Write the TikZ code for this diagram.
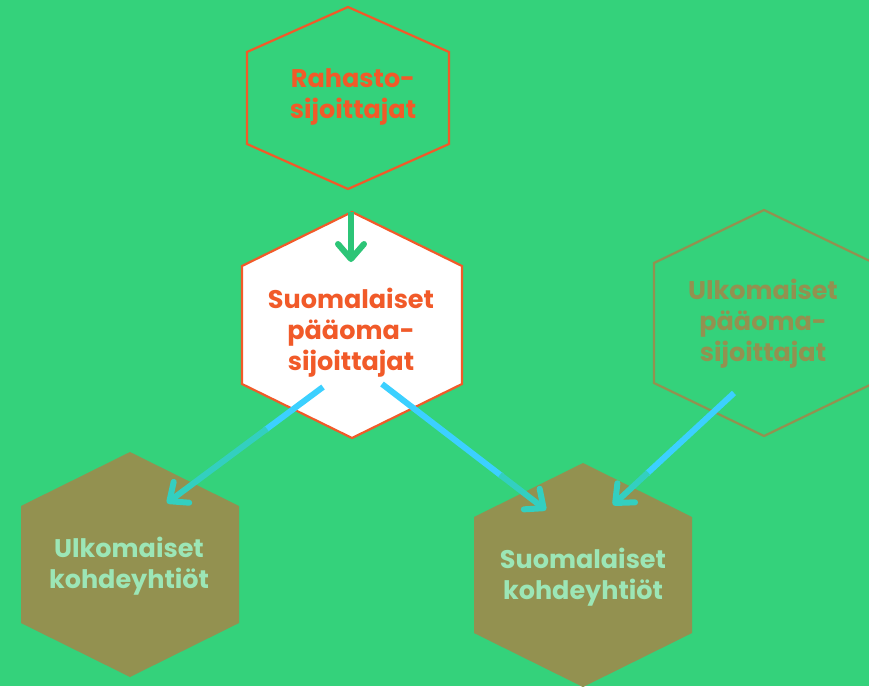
\documentclass[tikz,border=0pt]{standalone}
\usepackage{fontspec}
\setmainfont{Poppins}
\usetikzlibrary{arrows.meta,calc}
\definecolor{bggreen}{HTML}{34D27B}
\definecolor{arrgreen}{HTML}{2CC577}
\definecolor{hexorange}{HTML}{F15A29}
\definecolor{hexolive}{HTML}{939150}
\definecolor{paletext}{HTML}{9CE6B6}
\definecolor{flowblue}{HTML}{3CD0FF}
\definecolor{flowteal}{HTML}{33CFC0}
\tikzset{
  hexlabel/.style={align=center,font=\bfseries\fontsize{25.5}{31}\selectfont},
  flowline/.style={line width=6pt},
  flowarrow/.style={line width=6pt,-{Straight Barb[length=15pt,width=26pt,round]}}
}
\begin{document}
\begin{tikzpicture}[x=1pt,y=-1pt]
	\fill [bggreen] (0,0) rectangle (869,686);
	\useasboundingbox (0,0) rectangle (869,686);
	% Hexagons
	\draw [hexorange,line width=2.2pt] (348,7) -- ++(101,45) -- ++(0,92) -- ++(-101,45) -- ++(-101,-45) -- ++(0,-92) -- cycle;
	\draw [hexorange,fill=white,line width=2.2pt] (352,212) -- ++(110,54) -- ++(0,118) -- ++(-110,54) -- ++(-110,-54) -- ++(0,-118) -- cycle;
	\draw [hexolive,line width=2.2pt] (764,210) -- ++(110,53) -- ++(0,120) -- ++(-110,53) -- ++(-110,-53) -- ++(0,-120) -- cycle;
	\fill [hexolive] (130,452) -- ++(109,54) -- ++(0,117) -- ++(-109,54) -- ++(-109,-54) -- ++(0,-117) -- cycle;
	\fill [hexolive] (583,463) -- ++(109,54) -- ++(0,116) -- ++(-109,54) -- ++(-109,-54) -- ++(0,-116) -- cycle;
	% Labels
	\node [hexlabel,text=hexorange] (rahasto) at (353,97) {Rahasto-\\sijoittajat};
	\node [hexlabel,text=hexorange] (kotisij) at (351,333) {Suomalaiset\\pääoma-\\sijoittajat};
	\node [hexlabel,text=hexolive] (ulkosij) at (763,324) {Ulkomaiset\\pääoma-\\sijoittajat};
	\node [hexlabel,text=paletext] (ulkokohde) at (129,566) {Ulkomaiset\\kohdeyhtiöt};
	\node [hexlabel,text=paletext] (kotikohde) at (583,577) {Suomalaiset\\kohdeyhtiöt};
	% Flows
	\coordinate (rahasto-out) at ($(rahasto)+(-2,115)$);
	\coordinate (kotisij-in) at ($(kotisij)+(0,-71)$);
	\coordinate (kotisij-left) at ($(kotisij)+(-28,54)$);
	\coordinate (kotisij-right) at ($(kotisij)+(31,51)$);
	\coordinate (ulkosij-out) at ($(ulkosij)+(-29,69)$);
	\coordinate (ulkokohde-in) at ($(ulkokohde)+(38,-63)$);
	\coordinate (kotikohde-in1) at ($(kotikohde)+(-37,-67)$);
	\coordinate (kotikohde-in2) at ($(kotikohde)+(30,-72)$);
	\draw [flowarrow,arrgreen] (rahasto-out) -- (kotisij-in);
	\draw [flowline,flowblue] (kotisij-left) -- ($(kotisij-left)!0.37!(ulkokohde-in)$);
	\draw [flowarrow,flowteal] ($(kotisij-left)!0.36!(ulkokohde-in)$) -- (ulkokohde-in);
	\draw [flowline,flowblue] (kotisij-right) -- ($(kotisij-right)!0.73!(kotikohde-in1)$);
	\draw [flowarrow,flowteal] ($(kotisij-right)!0.72!(kotikohde-in1)$) -- (kotikohde-in1);
	\draw [flowline,flowblue] (ulkosij-out) -- ($(ulkosij-out)!0.72!(kotikohde-in2)$);
	\draw [flowarrow,flowteal] ($(ulkosij-out)!0.71!(kotikohde-in2)$) -- (kotikohde-in2);
\end{tikzpicture}
\end{document}
